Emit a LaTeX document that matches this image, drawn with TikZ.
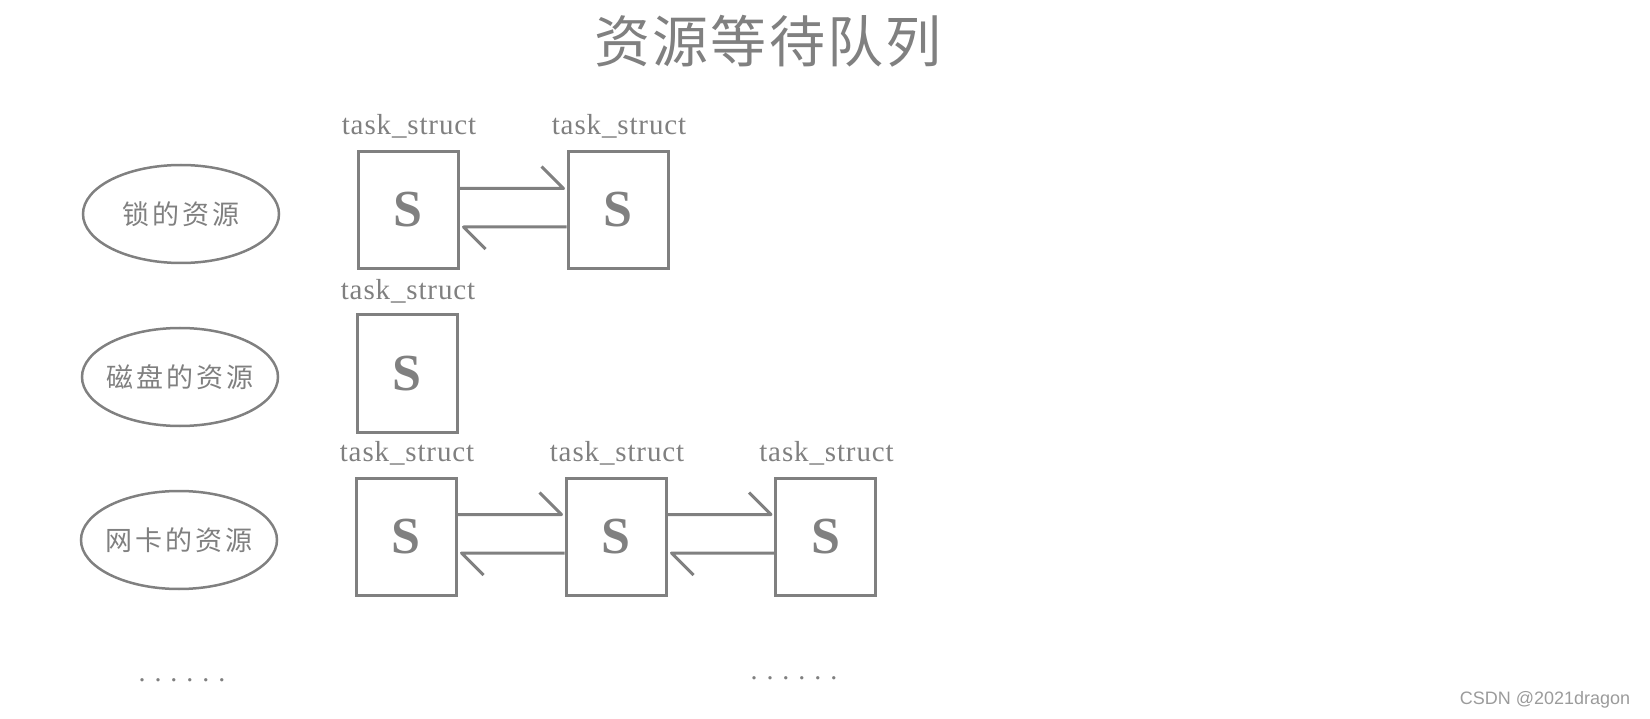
\documentclass[tikz,border=0pt]{standalone}
\usepackage{fontspec}
\setmainfont{Liberation Serif}
\newfontfamily\cjkfont[LetterSpace=11]{Noto Sans CJK SC}
\newfontfamily\titlefont[LetterSpace=4]{Noto Sans CJK SC}
\newfontfamily\labelfont[LetterSpace=3]{Liberation Serif}
\newfontfamily\dotfont[LetterSpace=32]{Liberation Serif}
\newfontfamily\wmfont{Liberation Sans}
\usetikzlibrary{shapes.geometric}
\definecolor{linegray}{RGB}{128,128,128}
\definecolor{wmgray}{RGB}{155,155,155}
\begin{document}
\begin{tikzpicture}[x=1pt,y=-1pt,
  res/.style={ellipse, draw=linegray, line width=2.5pt, minimum width=196pt, minimum height=98pt, inner xsep=-10pt, inner ysep=0pt, text=linegray, font=\cjkfont\fontsize{27}{27}\selectfont},
  tbox/.style={rectangle, draw=linegray, line width=3pt, minimum width=100pt, minimum height=117pt, inner sep=0pt, text=linegray, font=\bfseries\fontsize{52}{52}\selectfont},
  tlabel/.style={anchor=base, text=linegray, inner sep=0pt, font=\labelfont\fontsize{29}{29}\selectfont},
  link/.style={draw=linegray, line width=3pt, line join=round},
  dots/.style={anchor=base, text=linegray, inner sep=0pt, font=\dotfont\fontsize{28}{28}\selectfont}
]
\useasboundingbox (0,0) rectangle (1650,719);

% title
\node[text=linegray, inner sep=0pt, font=\titlefont\fontsize{56}{56}\selectfont] (title) at (768,41) {资源等待队列};

% resources
\node[res] (res1) at (181,214) {锁的资源};
\node[res] (res2) at (180,377) {磁盘的资源};
\node[res] (res3) at (179,540) {网卡的资源};

% task boxes
\node[tbox] (r1a) at (408,210) {S};
\node[tbox] (r1b) at (618,210) {S};
\node[tbox] (r2a) at (407,373.5) {S};
\node[tbox] (r3a) at (406,536.5) {S};
\node[tbox] (r3b) at (616,536.5) {S};
\node[tbox] (r3c) at (825.5,536.5) {S};

% labels
\node[tlabel] (l1a) at ([xshift=1pt,yshift=15pt]r1a.north) {task\_struct};
\node[tlabel] (l1b) at ([xshift=1pt,yshift=15pt]r1b.north) {task\_struct};
\node[tlabel] (l2a) at ([xshift=1pt,yshift=14pt]r2a.north) {task\_struct};
\node[tlabel] (l3a) at ([xshift=1pt,yshift=15pt]r3a.north) {task\_struct};
\node[tlabel] (l3b) at ([xshift=1pt,yshift=15pt]r3b.north) {task\_struct};
\node[tlabel] (l3c) at ([xshift=1pt,yshift=15pt]r3c.north) {task\_struct};

% links row 1
\draw[link] ([yshift=21.5pt]r1a.east) -- ([yshift=21.5pt,xshift=-3pt]r1b.west) -- ++(-22,-22);
\draw[link] ([yshift=-17pt]r1b.west) -- ([yshift=-17pt,xshift=4pt]r1a.east) -- ++(22,22);
% links row 3
\draw[link] ([yshift=22pt]r3a.east) -- ([yshift=22pt,xshift=-3pt]r3b.west) -- ++(-22,-22);
\draw[link] ([yshift=-16.5pt]r3b.west) -- ([yshift=-16.5pt,xshift=4pt]r3a.east) -- ++(22,22);
\draw[link] ([yshift=22pt]r3b.east) -- ([yshift=22pt,xshift=-3pt]r3c.west) -- ++(-22,-22);
\draw[link] ([yshift=-16.5pt]r3c.west) -- ([yshift=-16.5pt,xshift=4pt]r3b.east) -- ++(22,22);

% ellipses (dots)
\node[dots] (dl) at (182,681.5) {......};
\node[dots] (dr) at (794,679.5) {......};

% watermark
\node[text=wmgray, inner sep=0pt, font=\wmfont\fontsize{18}{18}\selectfont] (wm) at (1545,700) {CSDN @2021dragon};
\end{tikzpicture}
\end{document}
